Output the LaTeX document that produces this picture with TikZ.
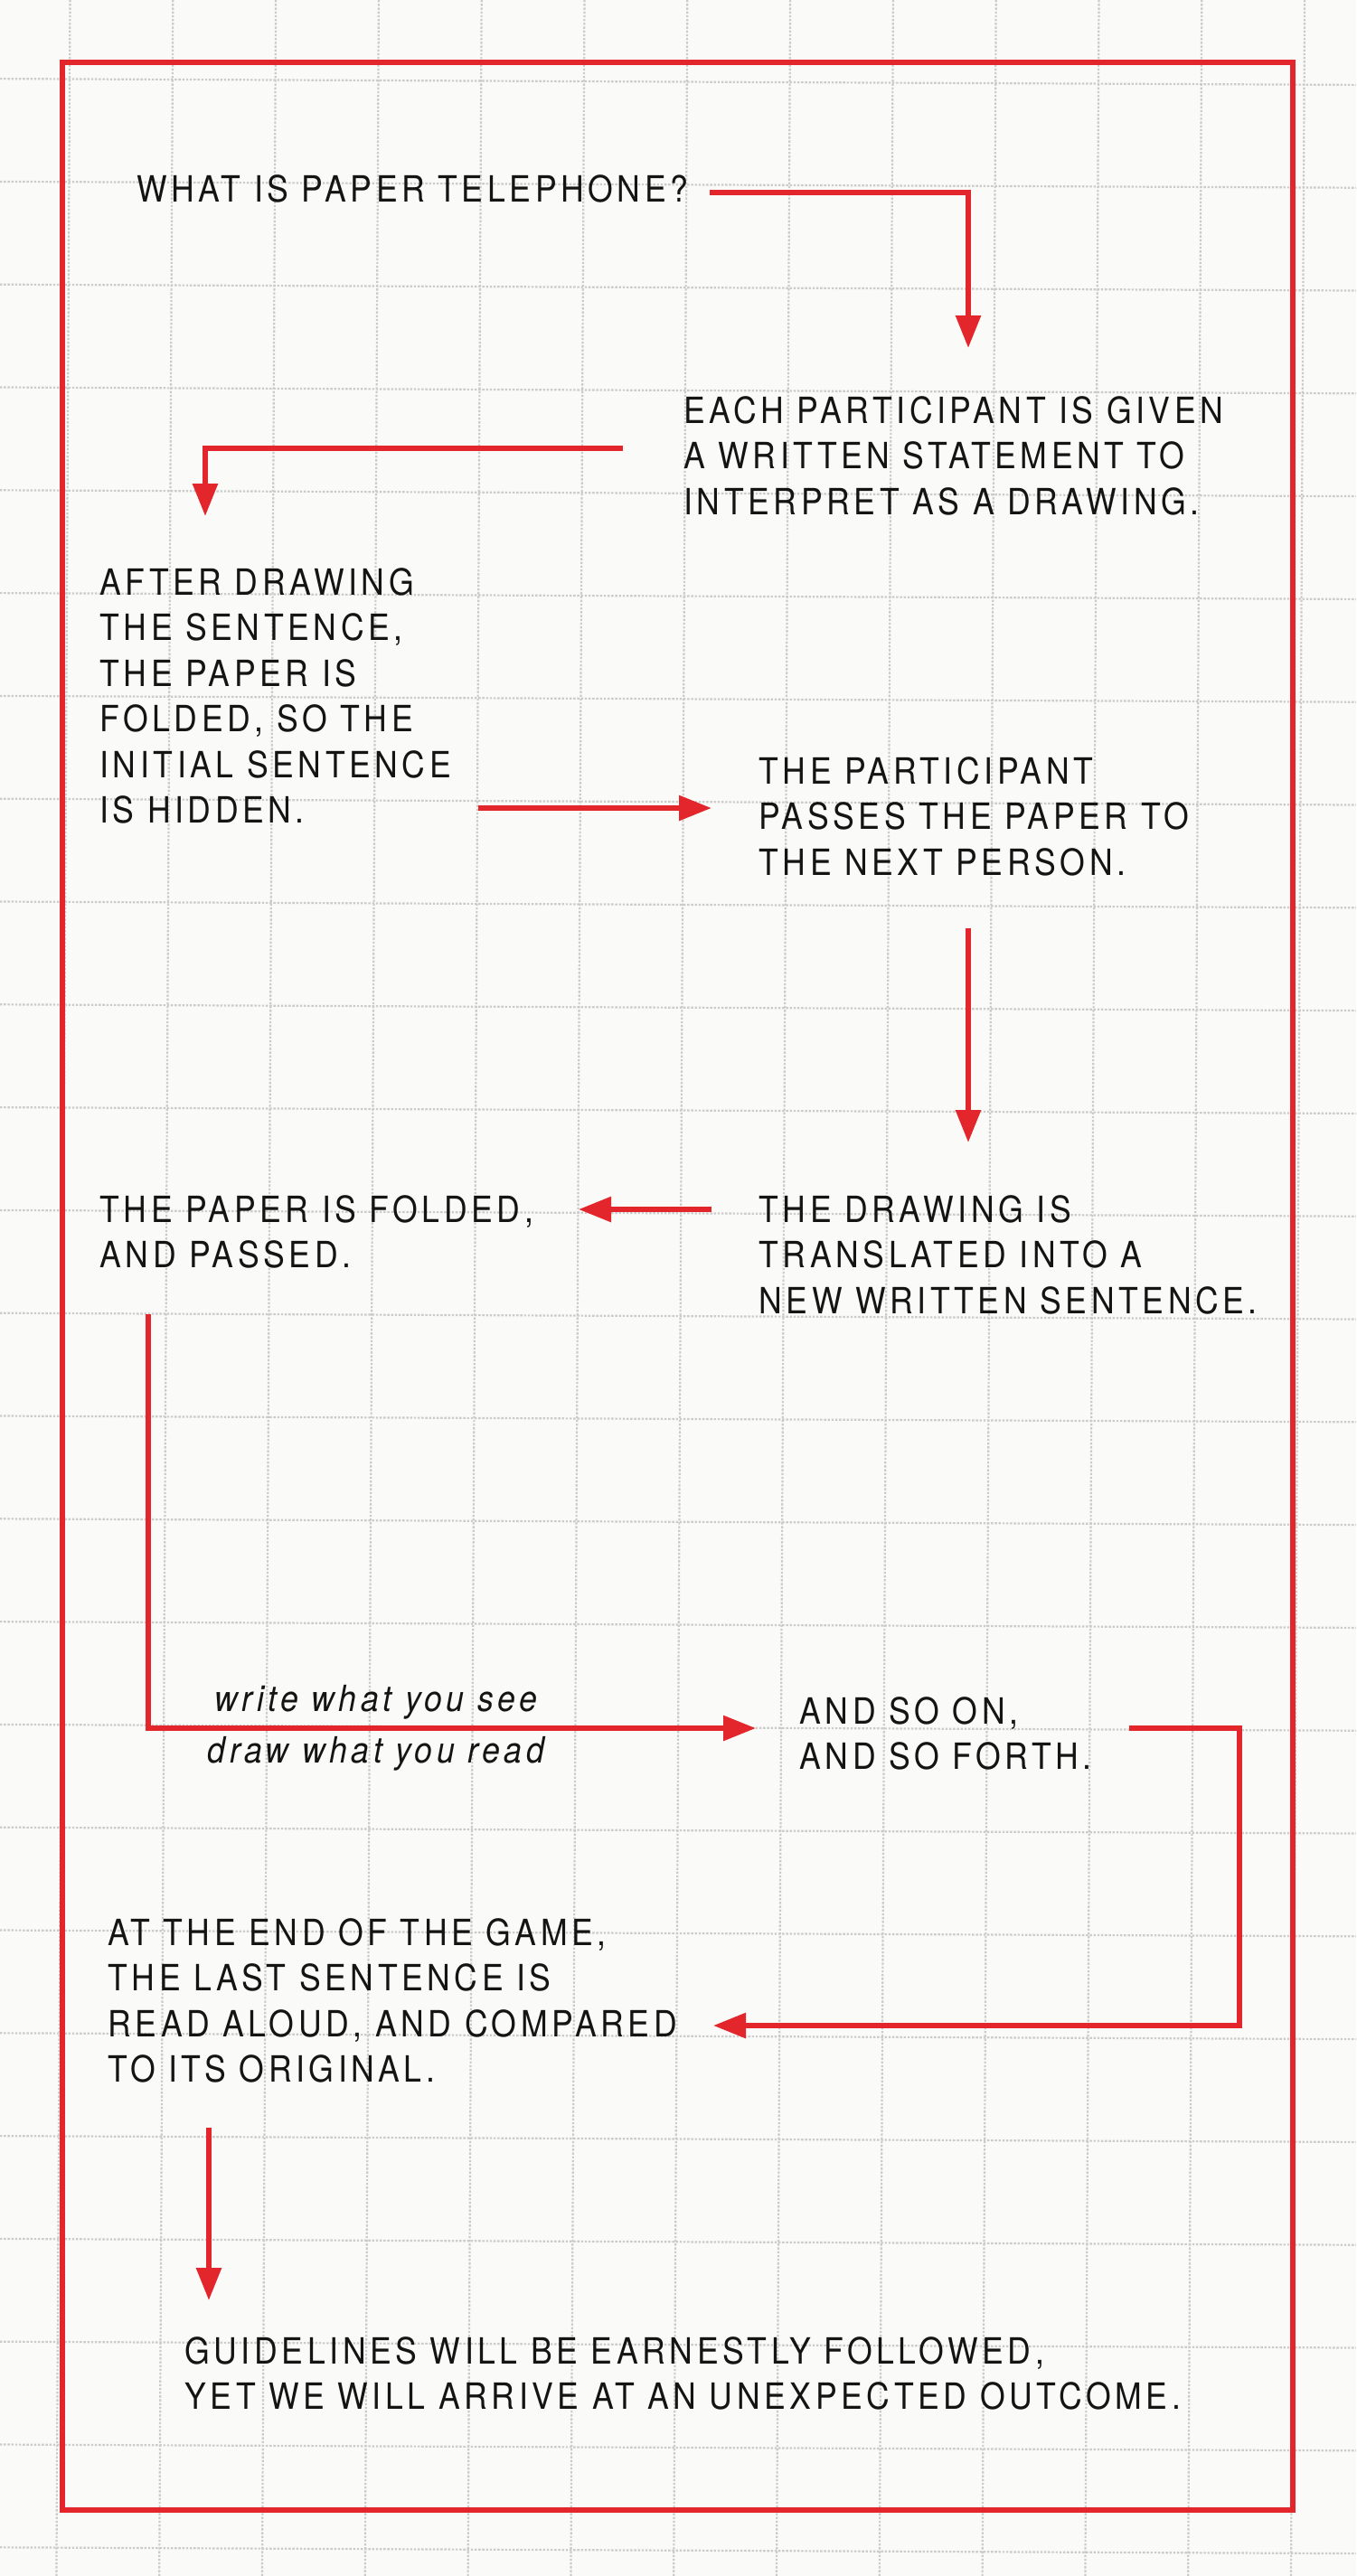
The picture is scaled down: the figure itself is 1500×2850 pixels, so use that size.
\documentclass[tikz,border=0pt]{standalone}
\usepackage{fontspec}
\setmainfont{TeX Gyre Heros}[FakeStretch=0.89,LetterSpace=11.5]
\usetikzlibrary{arrows.meta}
\definecolor{paper}{HTML}{FAFAF8}
\definecolor{redline}{HTML}{E3262C}
\definecolor{gridc}{HTML}{CBCBCB}
\begin{document}
\begin{tikzpicture}[x=0.5pt,y=-0.5pt,
  txt/.style={anchor=north west, inner sep=0pt, align=left, font=\fontsize{20}{25.25}\selectfont, text=black!92},
  lbl/.style={anchor=base, inner sep=0pt, font=\itshape\fontsize{20}{25.25}\selectfont, text=black!92},
  conn/.style={draw=redline, line width=2.9pt, line join=miter, -{Triangle[length=18pt,width=13.5pt]}},
  gridline/.style={draw=gridc, line width=1.1pt, dash pattern=on 1.2pt off 0.9pt},
  framebox/.style={draw=redline, line width=2.6pt}]
\useasboundingbox (0,0) rectangle (1500,2850);
\fill[paper] (0,0) rectangle (1500,2850);
% grid of the paper
\foreach \k in {0,...,12} \draw[gridline] ({77.5+\k*113.8},0) -- ({62.4+\k*113.8},2850);
\foreach \j in {0,...,24} \draw[gridline] (0,{87.1+\j*113.8}) -- (1500,{93.9+\j*113.8});
% frame
\draw[framebox] (69,69) rectangle (1430,2777);
% texts
\node[txt] (q) at (151,193) {WHAT IS PAPER TELEPHONE?};
\node[txt] (each) at (756,438) {EACH PARTICIPANT IS GIVEN\\A WRITTEN STATEMENT TO\\INTERPRET AS A DRAWING.};
\node[txt] (after) at (110,628) {AFTER DRAWING\\THE SENTENCE,\\THE PAPER IS\\FOLDED, SO THE\\INITIAL SENTENCE\\IS HIDDEN.};
\node[txt] (pass) at (839,837) {THE PARTICIPANT\\PASSES THE PAPER TO\\THE NEXT PERSON.};
\node[txt] (trans) at (839,1322) {THE DRAWING IS\\TRANSLATED INTO A\\NEW WRITTEN SENTENCE.};
\node[txt] (fold) at (110,1322) {THE PAPER IS FOLDED,\\AND PASSED.};
\node[lbl] (wr) at (416,1893) {write what you see};
\node[lbl] (rd) at (416,1950) {draw what you read};
\node[txt] (soon) at (884,1877) {AND SO ON,\\AND SO FORTH.};
\node[txt] (endg) at (119,2122) {AT THE END OF THE GAME,\\THE LAST SENTENCE IS\\READ ALOUD, AND COMPARED\\TO ITS ORIGINAL.};
\node[txt] (guide) at (204,2585) {GUIDELINES WILL BE EARNESTLY FOLLOWED,\\YET WE WILL ARRIVE AT AN UNEXPECTED OUTCOME.};
% connector ends
\coordinate (a1s) at (785,213);  \coordinate (a1e) at (1071,385);
\coordinate (a2s) at (689,496);  \coordinate (a2e) at (227,571);
\coordinate (a3s) at (529,894);  \coordinate (a3e) at (787,894);
\coordinate (a4s) at (1071,1027); \coordinate (a4e) at (1071,1264);
\coordinate (a5s) at (787,1338); \coordinate (a5e) at (640,1338);
\coordinate (a6s) at (164,1454); \coordinate (a6e) at (836,1912);
\coordinate (a7s) at (1249,1912); \coordinate (a7c) at (1371,1912); \coordinate (a7e) at (789,2241);
\coordinate (a8s) at (231,2354); \coordinate (a8e) at (231,2545);
% connectors
\draw[conn] (a1s) -| (a1e);
\draw[conn] (a2s) -| (a2e);
\draw[conn] (a3s) -- (a3e);
\draw[conn] (a4s) -- (a4e);
\draw[conn] (a5s) -- (a5e);
\draw[conn] (a6s) |- (a6e);
\draw[conn] (a7s) -- (a7c) |- (a7e);
\draw[conn] (a8s) -- (a8e);
\end{tikzpicture}
\end{document}
